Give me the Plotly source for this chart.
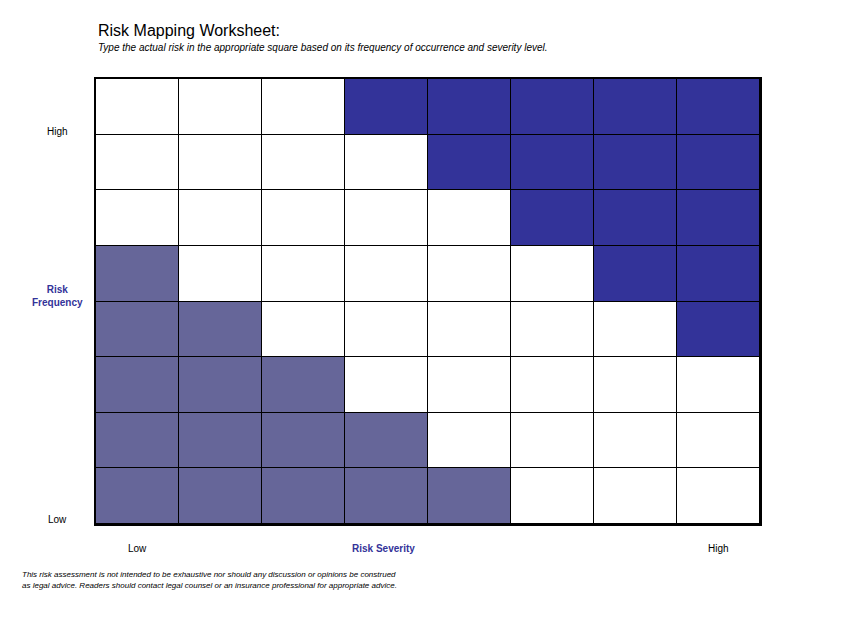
import plotly.graph_objects as go

# Data
severity_levels = [1, 2, 3, 4, 5, 6, 7, 8]      # Low -> High (x)
frequency_levels = [1, 2, 3, 4, 5, 6, 7, 8]     # Low -> High (y)
# zone per cell: 0 = blank, 1 = low-risk shading, 2 = high-risk shading
# rows listed from frequency 1 (bottom) to frequency 8 (top)
risk_zone = [
    [1, 1, 1, 1, 1, 0, 0, 0],
    [1, 1, 1, 1, 0, 0, 0, 0],
    [1, 1, 1, 0, 0, 0, 0, 0],
    [1, 1, 0, 0, 0, 0, 0, 2],
    [1, 0, 0, 0, 0, 0, 2, 2],
    [0, 0, 0, 0, 0, 2, 2, 2],
    [0, 0, 0, 0, 2, 2, 2, 2],
    [0, 0, 0, 2, 2, 2, 2, 2],
]
zone_colors = ["#ffffff", "#666699", "#333399"]

title_text = "Risk Mapping Worksheet:"
subtitle_text = "Type the actual risk in the appropriate square based on its frequency of occurrence and severity level."
footer_lines = [
    "This risk assessment is not intended to be exhaustive nor should any discussion or opinions be construed",
    "as legal advice. Readers should contact legal counsel or an insurance professional for appropriate advice.",
]

# page has an 8px body margin; work in window pixel coordinates
OFF = 8
W, H = 853 - 2 * OFF, 622 - 2 * OFF
L, T = 96 - OFF, 79 - OFF
R = W - (760 - OFF)
B = H - (524 - OFF)
pw, ph = W - L - R, H - T - B

def px(x):
    return (x - OFF - L) / pw

def py(y):
    return (H - B - (y - OFF)) / ph

colorscale = [
    [0.0, zone_colors[0]], [1 / 3, zone_colors[0]],
    [1 / 3, zone_colors[1]], [2 / 3, zone_colors[1]],
    [2 / 3, zone_colors[2]], [1.0, zone_colors[2]],
]

fig = go.Figure(go.Heatmap(
    x=severity_levels, y=frequency_levels, z=risk_zone,
    zmin=-0.5, zmax=2.5, colorscale=colorscale, showscale=False,
    xgap=1, ygap=1, hoverinfo="skip",
))

font = "Liberation Sans, Arial, sans-serif"
ann = []
ann.append(dict(x=px(96), y=py(31), text=title_text, xanchor="left", yanchor="middle",
                font=dict(size=16, color="#000000", family=font)))
ann.append(dict(x=px(96), y=py(47), text="<i>" + subtitle_text + "</i>", xanchor="left", yanchor="middle",
                font=dict(size=10, color="#000000", family=font)))
ann.append(dict(x=px(57), y=py(131), text="High", xanchor="center", yanchor="middle",
                font=dict(size=10, color="#000000", family=font)))
ann.append(dict(x=px(57), y=py(296), text="<b>Risk<br>Frequency</b>", xanchor="center", yanchor="middle",
                font=dict(size=10, color="#333399", family=font)))
ann.append(dict(x=px(57), y=py(519), text="Low", xanchor="center", yanchor="middle",
                font=dict(size=10, color="#000000", family=font)))
ann.append(dict(x=px(137), y=py(548), text="Low", xanchor="center", yanchor="middle",
                font=dict(size=10, color="#000000", family=font)))
ann.append(dict(x=px(383), y=py(548), text="<b>Risk Severity</b>", xanchor="center", yanchor="middle",
                font=dict(size=10, color="#333399", family=font)))
ann.append(dict(x=px(718), y=py(548), text="High", xanchor="center", yanchor="middle",
                font=dict(size=10, color="#000000", family=font)))
ann.append(dict(x=px(20), y=py(574), text="<i>" + footer_lines[0] + "</i>", xanchor="left", yanchor="middle",
                font=dict(size=8, color="#000000", family=font)))
ann.append(dict(x=px(20), y=py(585), text="<i>" + footer_lines[1] + "</i>", xanchor="left", yanchor="middle",
                font=dict(size=8, color="#000000", family=font)))
for a in ann:
    a.update(xref="paper", yref="paper", showarrow=False)

fig.update_layout(
    width=W, height=H,
    margin=dict(l=L, r=R, t=T, b=B, pad=0),
    paper_bgcolor="#ffffff", plot_bgcolor="#000000",
    annotations=ann, showlegend=False,
    xaxis=dict(range=[0.5, 8.5], showticklabels=False, ticks="", showgrid=False, zeroline=False,
               showline=True, linewidth=2, linecolor="#000000", mirror=True, fixedrange=True),
    yaxis=dict(range=[0.5, 8.5], showticklabels=False, ticks="", showgrid=False, zeroline=False,
               showline=True, linewidth=2, linecolor="#000000", mirror=True, fixedrange=True),
)

fig.write_html("out.html", config={"displayModeBar": False})
